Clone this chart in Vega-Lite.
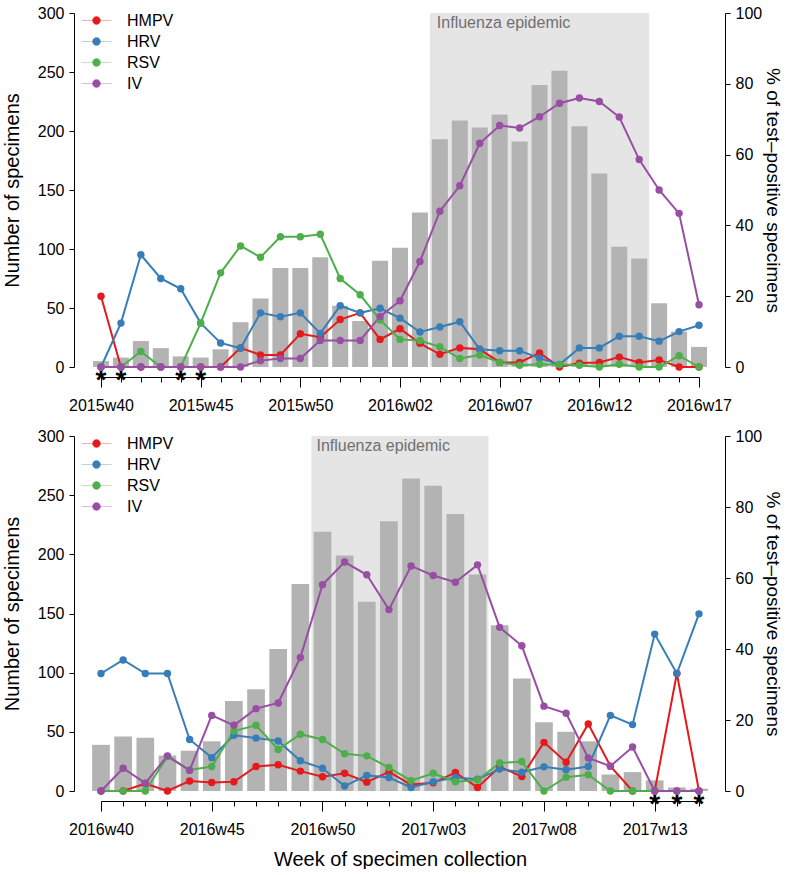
{
  "$schema": "https://vega.github.io/schema/vega-lite/v6.json",
  "padding": {"left": 2, "top": 5, "right": 0, "bottom": 0},
  "datasets": {
    "top": [
      {"week": "2015w40", "n": 5, "HMPV": 20.0, "HRV": 0, "RSV": 0, "IV": 0, "star": true},
      {"week": "2015w41", "n": 8, "HMPV": 0, "HRV": 12.4, "RSV": 0, "IV": 0, "star": true},
      {"week": "2015w42", "n": 22, "HMPV": 0, "HRV": 31.7, "RSV": 4.4, "IV": 0, "star": false},
      {"week": "2015w43", "n": 16, "HMPV": 0, "HRV": 25.0, "RSV": 0, "IV": 0, "star": false},
      {"week": "2015w44", "n": 9, "HMPV": 0, "HRV": 22.1, "RSV": 0, "IV": 0, "star": true},
      {"week": "2015w45", "n": 8, "HMPV": 0, "HRV": 12.4, "RSV": 12.4, "IV": 0, "star": true},
      {"week": "2015w46", "n": 15, "HMPV": 0, "HRV": 6.8, "RSV": 26.6, "IV": 0, "star": false},
      {"week": "2015w47", "n": 38, "HMPV": 5.4, "HRV": 5.3, "RSV": 34.2, "IV": 0, "star": false},
      {"week": "2015w48", "n": 58, "HMPV": 3.4, "HRV": 15.3, "RSV": 31.0, "IV": 1.8, "star": false},
      {"week": "2015w49", "n": 84, "HMPV": 3.4, "HRV": 14.2, "RSV": 36.8, "IV": 2.4, "star": false},
      {"week": "2015w50", "n": 84, "HMPV": 9.4, "HRV": 15.3, "RSV": 36.8, "IV": 2.4, "star": false},
      {"week": "2015w51", "n": 93, "HMPV": 8.4, "HRV": 9.5, "RSV": 37.5, "IV": 7.5, "star": false},
      {"week": "2015w52", "n": 52, "HMPV": 13.4, "HRV": 17.3, "RSV": 25.0, "IV": 7.5, "star": false},
      {"week": "2015w53", "n": 39, "HMPV": 15.3, "HRV": 15.3, "RSV": 20.4, "IV": 7.5, "star": false},
      {"week": "2016w01", "n": 90, "HMPV": 7.8, "HRV": 16.6, "RSV": 13.3, "IV": 14.3, "star": false},
      {"week": "2016w02", "n": 101, "HMPV": 10.8, "HRV": 13.8, "RSV": 7.8, "IV": 18.7, "star": false},
      {"week": "2016w03", "n": 131, "HMPV": 6.7, "HRV": 9.9, "RSV": 7.5, "IV": 29.8, "star": false},
      {"week": "2016w04", "n": 193, "HMPV": 3.6, "HRV": 11.3, "RSV": 5.7, "IV": 44.0, "star": false},
      {"week": "2016w05", "n": 209, "HMPV": 5.4, "HRV": 12.8, "RSV": 2.4, "IV": 51.2, "star": false},
      {"week": "2016w06", "n": 203, "HMPV": 5.0, "HRV": 5.0, "RSV": 3.4, "IV": 63.2, "star": false},
      {"week": "2016w07", "n": 214, "HMPV": 1.3, "HRV": 4.6, "RSV": 1.3, "IV": 68.2, "star": false},
      {"week": "2016w08", "n": 191, "HMPV": 1.3, "HRV": 4.6, "RSV": 0.5, "IV": 67.5, "star": false},
      {"week": "2016w09", "n": 239, "HMPV": 4.0, "HRV": 2.5, "RSV": 0.8, "IV": 70.7, "star": false},
      {"week": "2016w10", "n": 251, "HMPV": 0, "HRV": 0.7, "RSV": 0.7, "IV": 74.5, "star": false},
      {"week": "2016w11", "n": 204, "HMPV": 1.1, "HRV": 5.4, "RSV": 0.5, "IV": 76.0, "star": false},
      {"week": "2016w12", "n": 164, "HMPV": 1.3, "HRV": 5.4, "RSV": 0, "IV": 75.0, "star": false},
      {"week": "2016w13", "n": 102, "HMPV": 2.8, "HRV": 8.7, "RSV": 0.8, "IV": 70.6, "star": false},
      {"week": "2016w14", "n": 92, "HMPV": 1.3, "HRV": 8.7, "RSV": 0, "IV": 58.6, "star": false},
      {"week": "2016w15", "n": 54, "HMPV": 2.0, "HRV": 7.3, "RSV": 0, "IV": 50.0, "star": false},
      {"week": "2016w16", "n": 30, "HMPV": 0, "HRV": 10.0, "RSV": 3.2, "IV": 43.4, "star": false},
      {"week": "2016w17", "n": 17, "HMPV": 0, "HRV": 11.8, "RSV": 0, "IV": 17.6, "star": false}
    ],
    "bottom": [
      {"week": "2016w40", "n": 39, "HMPV": 0, "HRV": 33.1, "RSV": 0, "IV": 0, "star": false},
      {"week": "2016w41", "n": 46, "HMPV": 0, "HRV": 36.9, "RSV": 0, "IV": 6.4, "star": false},
      {"week": "2016w42", "n": 45, "HMPV": 2.1, "HRV": 33.1, "RSV": 0, "IV": 2.2, "star": false},
      {"week": "2016w43", "n": 30, "HMPV": 0, "HRV": 33.1, "RSV": 9.7, "IV": 9.9, "star": false},
      {"week": "2016w44", "n": 34, "HMPV": 2.8, "HRV": 14.5, "RSV": 5.9, "IV": 5.8, "star": false},
      {"week": "2016w45", "n": 42, "HMPV": 2.4, "HRV": 9.4, "RSV": 6.9, "IV": 21.3, "star": false},
      {"week": "2016w46", "n": 76, "HMPV": 2.6, "HRV": 15.7, "RSV": 16.9, "IV": 18.5, "star": false},
      {"week": "2016w47", "n": 86, "HMPV": 6.9, "HRV": 14.9, "RSV": 18.5, "IV": 23.2, "star": false},
      {"week": "2016w48", "n": 120, "HMPV": 7.4, "HRV": 14.1, "RSV": 11.7, "IV": 24.8, "star": false},
      {"week": "2016w49", "n": 175, "HMPV": 5.6, "HRV": 8.5, "RSV": 16.0, "IV": 37.6, "star": false},
      {"week": "2016w50", "n": 219, "HMPV": 4.0, "HRV": 6.4, "RSV": 14.5, "IV": 58.1, "star": false},
      {"week": "2016w51", "n": 199, "HMPV": 5.0, "HRV": 1.4, "RSV": 10.5, "IV": 64.5, "star": false},
      {"week": "2016w52", "n": 160, "HMPV": 2.5, "HRV": 4.4, "RSV": 9.9, "IV": 60.9, "star": false},
      {"week": "2017w01", "n": 228, "HMPV": 5.4, "HRV": 3.8, "RSV": 6.6, "IV": 51.1, "star": false},
      {"week": "2017w02", "n": 264, "HMPV": 1.8, "HRV": 1.0, "RSV": 2.9, "IV": 63.4, "star": false},
      {"week": "2017w03", "n": 258, "HMPV": 2.3, "HRV": 2.6, "RSV": 5.0, "IV": 60.7, "star": false},
      {"week": "2017w04", "n": 234, "HMPV": 5.2, "HRV": 3.8, "RSV": 2.6, "IV": 58.8, "star": false},
      {"week": "2017w05", "n": 183, "HMPV": 1.0, "HRV": 3.3, "RSV": 3.1, "IV": 63.7, "star": false},
      {"week": "2017w06", "n": 140, "HMPV": 6.8, "HRV": 6.2, "RSV": 7.9, "IV": 46.1, "star": false},
      {"week": "2017w07", "n": 95, "HMPV": 4.1, "HRV": 5.3, "RSV": 8.3, "IV": 40.9, "star": false},
      {"week": "2017w08", "n": 58, "HMPV": 13.7, "HRV": 6.8, "RSV": 0, "IV": 23.9, "star": false},
      {"week": "2017w09", "n": 50, "HMPV": 8.1, "HRV": 6.0, "RSV": 3.9, "IV": 21.9, "star": false},
      {"week": "2017w10", "n": 42, "HMPV": 18.9, "HRV": 6.9, "RSV": 4.6, "IV": 9.3, "star": false},
      {"week": "2017w11", "n": 14, "HMPV": 7.0, "HRV": 21.3, "RSV": 0, "IV": 7.0, "star": false},
      {"week": "2017w12", "n": 16, "HMPV": 0, "HRV": 18.7, "RSV": 0, "IV": 12.4, "star": false},
      {"week": "2017w13", "n": 9, "HMPV": 0, "HRV": 44.2, "RSV": 0, "IV": 0, "star": true},
      {"week": "2017w14", "n": 3, "HMPV": 33.1, "HRV": 33.1, "RSV": 0, "IV": 0, "star": true},
      {"week": "2017w15", "n": 2, "HMPV": 0, "HRV": 49.9, "RSV": 0, "IV": 0, "star": true}
    ],
    "epiTop": [{"start": "2016w04", "end": "2016w14", "label": "Influenza epidemic"}],
    "epiBottom": [{"start": "2016w50", "end": "2017w05", "label": "Influenza epidemic"}]
  },
  "config": {
    "font": "Liberation Sans",
    "view": {"stroke": null},
    "axis": {
      "grid": false,
      "domainColor": "#000000",
      "tickColor": "#000000",
      "labelColor": "#000000",
      "titleColor": "#000000",
      "labelFontSize": 16,
      "titleFontSize": 20,
      "titleFontWeight": "normal",
      "labelFont": "Liberation Sans",
      "titleFont": "Liberation Sans"
    },
    "legend": {
      "orient": "none",
      "legendX": -15,
      "legendY": -3,
      "padding": 0,
      "symbolType": "M-1.5,0L1.5,0M0.4,0A0.4,0.4,0,1,1,-0.4,0A0.4,0.4,0,1,1,0.4,0Z",
      "symbolSize": 400,
      "labelFontSize": 16,
      "labelOffset": 20,
      "rowPadding": 2,
      "labelFont": "Liberation Sans",
      "labelColor": "#000000"
    }
  },
  "spacing": 15,
  "resolve": {"scale": {"x": "independent", "y": "independent"}, "legend": {"color": "independent"}},
  "vconcat": [
    {
      "width": 598,
      "height": 354,
      "data": {"name": "top"},
      "resolve": {"scale": {"y": "independent"}},
      "layer": [
        {
          "layer": [
            {
              "data": {"name": "epiTop"},
              "mark": {"type": "rect", "color": "#e5e5e5", "xOffset": -10, "x2Offset": 10},
              "encoding": {
                "x": {"field": "start", "type": "ordinal", "scale": {"type": "point", "padding": 0}},
                "x2": {"field": "end"}
              }
            },
            {
              "data": {"name": "epiTop"},
              "mark": {"type": "text", "align": "left", "baseline": "middle", "dx": -3, "dy": 10, "fontSize": 16, "color": "#707070"},
              "encoding": {
                "x": {"field": "start", "type": "ordinal"},
                "y": {"datum": 300, "type": "quantitative"},
                "text": {"field": "label"}
              }
            },
            {
              "mark": {"type": "bar", "width": 16, "color": "#b3b3b3"},
              "encoding": {
                "x": {
                  "field": "week", "type": "ordinal",
                  "axis": {
                    "title": null, "offset": 10, "labelAngle": 0, "labelAlign": "center", "labelFlush": false, "labelOverlap": false, "labelPadding": 18,
                    "labelExpr": "indexof(['2015w40','2015w45','2015w50','2016w02','2016w07','2016w12','2016w17'], datum.value) >= 0 ? datum.label : ''",
                    "tickSize": {"condition": {"test": "indexof(['2015w40','2015w45','2015w50','2016w02','2016w07','2016w12','2016w17'], datum.value) >= 0", "value": 10}, "value": 5}
                  }
                },
                "y": {
                  "field": "n", "type": "quantitative",
                  "scale": {"domain": [0, 300], "nice": false},
                  "axis": {"title": "Number of specimens", "offset": 27, "values": [0, 50, 100, 150, 200, 250, 300], "tickSize": 5, "labelPadding": 5, "titlePadding": 15}
                }
              }
            },
            {
              "transform": [{"filter": "datum.star"}],
              "mark": {"type": "text", "text": "*", "fontSize": 28, "fontWeight": "bold", "baseline": "alphabetic", "dy": 22, "color": "#000000"},
              "encoding": {
                "x": {"field": "week", "type": "ordinal"},
                "y": {"datum": 0, "type": "quantitative"}
              }
            }
          ]
        },
        {
          "transform": [{"fold": ["HMPV", "HRV", "RSV", "IV"], "as": ["virus", "pct"]}],
          "layer": [
            {
              "mark": {"type": "line", "strokeWidth": 2},
              "encoding": {
                "x": {"field": "week", "type": "ordinal"},
                "y": {
                  "field": "pct", "type": "quantitative",
                  "scale": {"domain": [0, 100], "nice": false},
                  "axis": {"orient": "right", "title": "% of test–positive specimens", "titleFontSize": 19, "offset": 26, "values": [0, 20, 40, 60, 80, 100], "tickSize": 5, "labelPadding": 5, "titlePadding": 1}
                },
                "color": {
                  "field": "virus", "type": "nominal", "title": null,
                  "scale": {"domain": ["HMPV", "HRV", "RSV", "IV"], "range": ["#e41a1c", "#377eb8", "#4daf4a", "#984ea3"]},
                  "legend": {"encode": {"symbols": {"update": {"strokeOpacity": {"value": 0.35}, "strokeWidth": {"value": 1}}}}}
                }
              }
            },
            {
              "mark": {"type": "point", "filled": true, "size": 55, "opacity": 1},
              "encoding": {
                "x": {"field": "week", "type": "ordinal"},
                "y": {"field": "pct", "type": "quantitative"},
                "color": {"field": "virus", "type": "nominal", "title": null}
              }
            }
          ]
        }
      ]
    },
    {
      "width": 598,
      "height": 355,
      "data": {"name": "bottom"},
      "resolve": {"scale": {"y": "independent"}},
      "layer": [
        {
          "layer": [
            {
              "data": {"name": "epiBottom"},
              "mark": {"type": "rect", "color": "#e5e5e5", "xOffset": -11, "x2Offset": 11},
              "encoding": {
                "x": {"field": "start", "type": "ordinal", "scale": {"type": "point", "padding": 0}},
                "x2": {"field": "end"}
              }
            },
            {
              "data": {"name": "epiBottom"},
              "mark": {"type": "text", "align": "left", "baseline": "middle", "dx": -6, "dy": 10, "fontSize": 16, "color": "#707070"},
              "encoding": {
                "x": {"field": "start", "type": "ordinal"},
                "y": {"datum": 300, "type": "quantitative"},
                "text": {"field": "label"}
              }
            },
            {
              "mark": {"type": "bar", "width": 17.7, "color": "#b3b3b3"},
              "encoding": {
                "x": {
                  "field": "week", "type": "ordinal",
                  "axis": {
                    "title": "Week of specimen collection", "titlePadding": 12, "offset": 10, "labelAngle": 0, "labelAlign": "center", "labelFlush": false, "labelOverlap": false, "labelPadding": 18,
                    "labelExpr": "indexof(['2016w40','2016w45','2016w50','2017w03','2017w08','2017w13'], datum.value) >= 0 ? datum.label : ''",
                    "tickSize": {"condition": {"test": "indexof(['2016w40','2016w45','2016w50','2017w03','2017w08','2017w13'], datum.value) >= 0", "value": 10}, "value": 5}
                  }
                },
                "y": {
                  "field": "n", "type": "quantitative",
                  "scale": {"domain": [0, 300], "nice": false},
                  "axis": {"title": "Number of specimens", "offset": 27, "values": [0, 50, 100, 150, 200, 250, 300], "tickSize": 5, "labelPadding": 5, "titlePadding": 15}
                }
              }
            },
            {
              "transform": [{"filter": "datum.star"}],
              "mark": {"type": "text", "text": "*", "fontSize": 28, "fontWeight": "bold", "baseline": "alphabetic", "dy": 22, "color": "#000000"},
              "encoding": {
                "x": {"field": "week", "type": "ordinal"},
                "y": {"datum": 0, "type": "quantitative"}
              }
            }
          ]
        },
        {
          "transform": [{"fold": ["HMPV", "HRV", "RSV", "IV"], "as": ["virus", "pct"]}],
          "layer": [
            {
              "mark": {"type": "line", "strokeWidth": 2},
              "encoding": {
                "x": {"field": "week", "type": "ordinal"},
                "y": {
                  "field": "pct", "type": "quantitative",
                  "scale": {"domain": [0, 100], "nice": false},
                  "axis": {"orient": "right", "title": "% of test–positive specimens", "titleFontSize": 19, "offset": 26, "values": [0, 20, 40, 60, 80, 100], "tickSize": 5, "labelPadding": 5, "titlePadding": 1}
                },
                "color": {
                  "field": "virus", "type": "nominal", "title": null,
                  "scale": {"domain": ["HMPV", "HRV", "RSV", "IV"], "range": ["#e41a1c", "#377eb8", "#4daf4a", "#984ea3"]},
                  "legend": {"encode": {"symbols": {"update": {"strokeOpacity": {"value": 0.35}, "strokeWidth": {"value": 1}}}}}
                }
              }
            },
            {
              "mark": {"type": "point", "filled": true, "size": 55, "opacity": 1},
              "encoding": {
                "x": {"field": "week", "type": "ordinal"},
                "y": {"field": "pct", "type": "quantitative"},
                "color": {"field": "virus", "type": "nominal", "title": null}
              }
            }
          ]
        }
      ]
    }
  ]
}
